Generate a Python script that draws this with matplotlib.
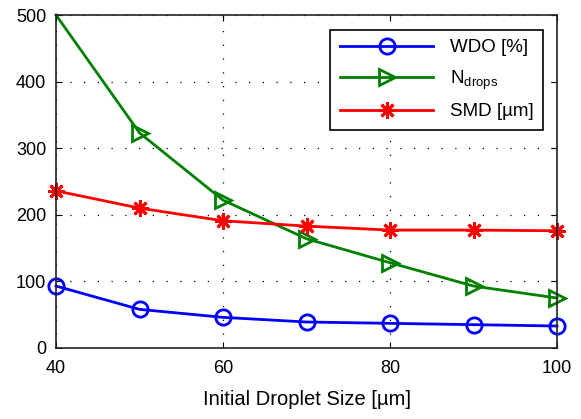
import matplotlib
matplotlib.use('Agg')
import matplotlib.pyplot as plt

plt.rcParams['font.family'] = ['Liberation Sans', 'DejaVu Sans']

# Data
droplet_size = [40, 50, 60, 70, 80, 90, 100]
wdo = [93, 58, 46, 39, 37, 35, 33]
n_drops = [500, 323, 222, 164, 128, 93, 75]
smd = [236, 210, 191, 183, 177, 177, 176]

# Figure
fig = plt.figure(figsize=(5.81, 4.19), dpi=100)
ax = fig.add_axes([0.0964, 0.1695, 0.8623, 0.7947])

ax.plot(droplet_size, wdo, color='#0000ff', lw=2, marker='o', ms=11,
        mfc='none', mew=2, label='WDO [%]', clip_on=False)
# first point sits on the top corner, no marker there
ax.plot(droplet_size, n_drops, color='#008000', lw=2, marker='>', ms=11,
        mfc='none', mew=2, markevery=list(range(1, len(droplet_size))),
        label='N$_{\\mathregular{drops}}$', clip_on=False)
ax.plot(droplet_size, smd, color='#ff0000', lw=2, marker=(8, 2, 0), ms=12,
        mew=2, label='SMD [\u00b5m]', clip_on=False)

ax.set_xlim(40, 100)
ax.set_ylim(0, 500)
ax.set_xticks([40, 60, 80, 100])
ax.set_yticks([0, 100, 200, 300, 400, 500])

# matlab-ish axes styling
ax.grid(True, color='black', linestyle=(0, (1, 10)), linewidth=0.9)
ax.tick_params(direction='in', length=4, labelsize=13, top=True, right=True)
ax.tick_params(axis='x', pad=9)
ax.tick_params(axis='y', pad=7)
for s in ax.spines.values():
    s.set_linewidth(1.2)
    s.set_color('#222222')

ax.set_xlabel('Initial Droplet Size [\u00b5m]', fontsize=14.5, labelpad=9)

leg = ax.legend(loc='upper right', bbox_to_anchor=(0.973, 0.955), borderaxespad=0,
                fontsize=13.5, handlelength=5.0, fancybox=False, framealpha=1,
                borderpad=0.5, labelspacing=0.62, handletextpad=0.9)
leg.get_frame().set_edgecolor('black')
leg.get_frame().set_linewidth(1.2)

plt.savefig('out.png', dpi=100)
